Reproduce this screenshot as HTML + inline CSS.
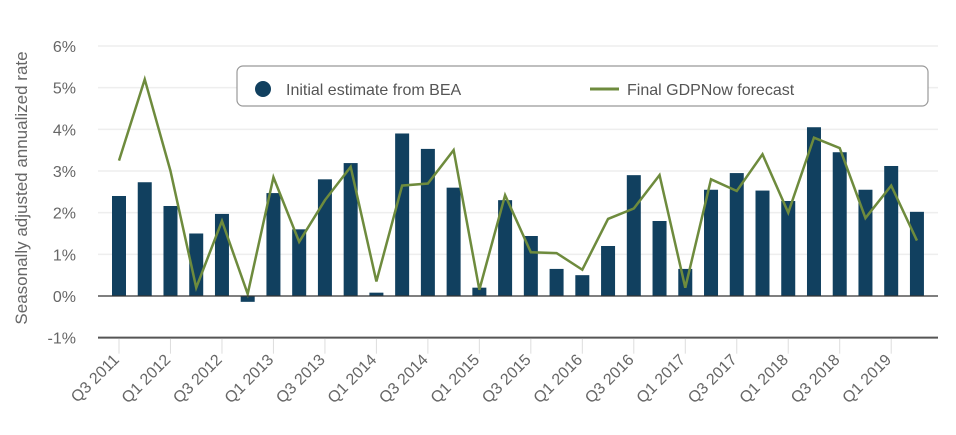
<!DOCTYPE html>
<html><head><meta charset="utf-8"><style>
body{margin:0;background:#fff;}
svg text{font-family:"Liberation Sans",Arial,sans-serif;}
</style></head><body>
<svg id="chart" width="956" height="430" xmlns="http://www.w3.org/2000/svg">
<g id="grid"></g><g id="bars"></g><g id="line"></g><g id="axes"></g>
<text transform="translate(27,188) rotate(-90)" text-anchor="middle" font-size="17" fill="#666">Seasonally adjusted annualized rate</text>
<g>
<rect x="237" y="66" width="691" height="40" rx="6" fill="#fff" stroke="#999" stroke-width="1.2"/>
<circle cx="263" cy="89" r="8" fill="#11405f"/>
<text x="286" y="95" font-size="16" fill="#555">Initial estimate from BEA</text>
<line x1="590" y1="89" x2="619" y2="89" stroke="#6e8b3d" stroke-width="3"/>
<text x="627" y="95" font-size="16" fill="#555">Final GDPNow forecast</text>
</g>
</svg>
<script>
const quarters=["Q3 2011","Q4 2011","Q1 2012","Q2 2012","Q3 2012","Q4 2012","Q1 2013","Q2 2013","Q3 2013","Q4 2013","Q1 2014","Q2 2014","Q3 2014","Q4 2014","Q1 2015","Q2 2015","Q3 2015","Q4 2015","Q1 2016","Q2 2016","Q3 2016","Q4 2016","Q1 2017","Q2 2017","Q3 2017","Q4 2017","Q1 2018","Q2 2018","Q3 2018","Q4 2018","Q1 2019","Q2 2019"];
const beaValues=[2.4,2.73,2.16,1.5,1.97,-0.14,2.47,1.6,2.8,3.19,0.08,3.9,3.53,2.6,0.2,2.3,1.44,0.65,0.5,1.2,2.9,1.8,0.65,2.55,2.95,2.53,2.28,4.05,3.45,2.55,3.12,2.02];
const gdpnowValues=[3.25,5.2,3.0,0.2,1.8,0.05,2.85,1.3,2.3,3.1,0.35,2.65,2.7,3.5,0.15,2.42,1.05,1.03,0.63,1.85,2.1,2.9,0.2,2.8,2.52,3.4,2.0,3.8,3.55,1.87,2.65,1.33];
const yTicks=[-1,0,1,2,3,4,5,6];
const NS="http://www.w3.org/2000/svg";
const y=v=>296-v*41.67;
const x=i=>119+i*25.74;
function mk(tag,attrs,parent){const e=document.createElementNS(NS,tag);for(const k in attrs)e.setAttribute(k,attrs[k]);document.getElementById(parent).appendChild(e);return e;}
yTicks.forEach(t=>{
  if(t>0){const g=mk('line',{x1:98,x2:938,y1:y(t),y2:y(t),stroke:'#eeeeee','stroke-width':1.5},'grid');
  
  }
  const l=mk('text',{x:76,y:y(t)+6,'text-anchor':'end','font-size':16,fill:'#666'},'grid');
  l.textContent=t+'%';
  
  
});
beaValues.forEach((v,i)=>{
  const top=Math.min(y(v),y(0)),h=Math.abs(y(v)-y(0));
  const r=mk('rect',{x:x(i)-7,y:top,width:14,height:Math.max(h,1),fill:'#11405f'},'bars');
  
  
});
const z=mk('line',{x1:98,x2:938,y1:y(0),y2:y(0),stroke:'#333','stroke-width':1.2},'axes');


const p=mk('polyline',{points:gdpnowValues.map((v,i)=>x(i)+','+y(v)).join(' '),fill:'none',stroke:'#6e8b3d','stroke-width':2.5,'stroke-linejoin':'miter'},'line');


const ax=mk('line',{x1:98,x2:938,y1:y(-1),y2:y(-1),stroke:'#555','stroke-width':2},'axes');


quarters.forEach((q,i)=>{
  if(i%2)return;
  const tk=mk('line',{x1:x(i),x2:x(i),y1:y(-1)+1,y2:y(-1)+16,stroke:'#ddd','stroke-width':1},'axes');
  
  
  const t=mk('text',{x:x(i)+1,y:y(-1)+23,'text-anchor':'end','font-size':16,fill:'#666',transform:'rotate(-45 '+(x(i)+1)+' '+(y(-1)+23)+')'},'axes');
  t.textContent=q;
  
  
});
</script>
</body></html>
